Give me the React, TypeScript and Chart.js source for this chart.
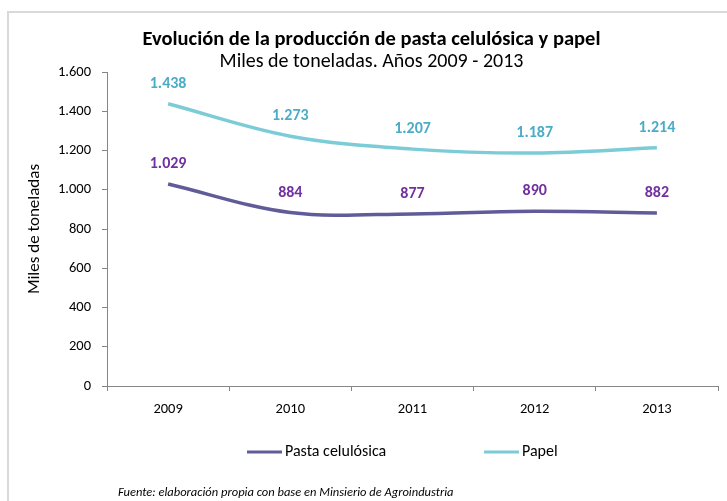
import { useEffect, useRef } from "react";
import { Chart, registerables } from "chart.js";

Chart.register(...registerables);

const years = ["2009", "2010", "2011", "2012", "2013"];
const pastaValues = [1029, 884, 877, 890, 882];
const papelValues = [1438, 1273, 1207, 1187, 1214];
const seriesNames = ["Pasta celulósica", "Papel"];
const titleText = "Evolución de la producción de pasta celulósica y papel";
const subtitleText = "Miles de toneladas. Años 2009 - 2013";
const yAxisTitle = "Miles de toneladas";
const footerText = "Fuente: elaboración propia con base en Minsierio de Agroindustria";

const FONT = "Carlito, Lato, 'Liberation Sans', sans-serif";
const pastaLine = "#605C99";
const papelLine = "#7BCCD6";
const pastaLabel = "#7030A0";
const papelLabel = "#4BACC6";
const axisColor = "#868686";

const fmt = (v: number) => String(v).replace(/\B(?=(\d{3})+(?!\d))/g, ".");

const framePlugin = {
  id: "frame",
  beforeDraw(chart: any) {
    const ctx = chart.ctx;
    ctx.save();
    ctx.fillStyle = "#ffffff";
    ctx.fillRect(0, 0, chart.width, chart.height);
    ctx.strokeStyle = "#D9D9D9";
    ctx.lineWidth = 2;
    ctx.strokeRect(8, 12, chart.width + 20, chart.height + 20);
    ctx.restore();
  },
};

const labelPlugin = {
  id: "dataLabels",
  afterDatasetsDraw(chart: any) {
    const ctx = chart.ctx;
    ctx.save();
    ctx.font = `bold 16px ${FONT}`;
    ctx.textAlign = "center";
    ctx.textBaseline = "middle";
    chart.data.datasets.forEach((ds: any, i: number) => {
      const meta = chart.getDatasetMeta(i);
      ctx.fillStyle = ds.labelColor;
      meta.data.forEach((pt: any, j: number) => {
        ctx.fillText(fmt(ds.data[j]), pt.x, pt.y - 20);
      });
    });
    ctx.restore();
  },
};

const legendFooterPlugin = {
  id: "legendFooter",
  afterDraw(chart: any) {
    const ctx = chart.ctx;
    ctx.save();
    const items = [
      { x: 247, color: pastaLine, text: seriesNames[0] },
      { x: 484, color: papelLine, text: seriesNames[1] },
    ];
    const y = 452;
    items.forEach((it) => {
      ctx.strokeStyle = it.color;
      ctx.lineWidth = 3;
      ctx.beginPath();
      ctx.moveTo(it.x, y);
      ctx.lineTo(it.x + 35, y);
      ctx.stroke();
      ctx.fillStyle = "#000000";
      ctx.font = `16px ${FONT}`;
      ctx.textAlign = "left";
      ctx.textBaseline = "middle";
      ctx.fillText(it.text, it.x + 38, y);
    });
    ctx.font = `italic 12.5px ${FONT}`;
    ctx.fillStyle = "#000000";
    ctx.textBaseline = "middle";
    ctx.fillText(footerText, 118, 493);
    ctx.restore();
  },
};

export default function App() {
  const ref = useRef<HTMLCanvasElement | null>(null);

  useEffect(() => {
    if (!ref.current) return;
    const chart = new Chart(ref.current, {
      type: "line",
      data: {
        labels: years,
        datasets: [
          {
            label: seriesNames[0],
            data: pastaValues,
            borderColor: pastaLine,
            backgroundColor: pastaLine,
            borderWidth: 3.5,
            pointRadius: 0,
            tension: 0.35,
            fill: false,
            labelColor: pastaLabel,
          } as any,
          {
            label: seriesNames[1],
            data: papelValues,
            borderColor: papelLine,
            backgroundColor: papelLine,
            borderWidth: 3.5,
            pointRadius: 0,
            tension: 0.35,
            fill: false,
            labelColor: papelLabel,
          } as any,
        ],
      },
      options: {
        animation: false,
        responsive: false,
        devicePixelRatio: 1,
        layout: { padding: { left: 25, right: 9, top: 0, bottom: 75 } },
        plugins: {
          legend: { display: false },
          tooltip: { enabled: false },
          title: {
            display: true,
            text: titleText,
            color: "#000000",
            font: { family: FONT, size: 20.5, weight: "bold", lineHeight: 1 },
            padding: { top: 30, bottom: 0 },
          },
          subtitle: {
            display: true,
            text: subtitleText,
            color: "#000000",
            font: { family: FONT, size: 20, weight: "normal", lineHeight: 1 },
            padding: { top: 1.5, bottom: 0 },
          },
        },
        scales: {
          x: {
            offset: true,
            grid: {
              offset: true,
              drawOnChartArea: false,
              drawTicks: true,
              tickLength: 5,
              color: axisColor,
            },
            border: { color: axisColor, width: 1 },
            ticks: {
              color: "#000000",
              font: { family: FONT, size: 14.5 },
              padding: 10,
              maxRotation: 0,
            },
            afterFit(scale: any) {
              scale.height = 40;
            },
          },
          y: {
            min: 0,
            max: 1600,
            grid: {
              drawOnChartArea: false,
              drawTicks: true,
              tickLength: 5,
              color: axisColor,
            },
            border: { color: axisColor, width: 1 },
            ticks: {
              stepSize: 200,
              color: "#000000",
              font: { family: FONT, size: 14.5 },
              padding: 11,
              callback: (v: any) => fmt(Number(v)),
            },
            title: {
              display: true,
              text: yAxisTitle,
              color: "#000000",
              font: { family: FONT, size: 17 },
              padding: { top: 0, bottom: 0 },
            },
            afterFit(scale: any) {
              scale.width = 82;
            },
          },
        },
      },
      plugins: [framePlugin, labelPlugin, legendFooterPlugin],
    });
    return () => chart.destroy();
  }, []);

  return (
    <div style={{ position: "fixed", left: 0, top: 0, width: 727, height: 501, overflow: "hidden", background: "#fff" }}>
      <canvas ref={ref} width={727} height={501} style={{ width: 727, height: 501, display: "block" }} />
    </div>
  );
}
